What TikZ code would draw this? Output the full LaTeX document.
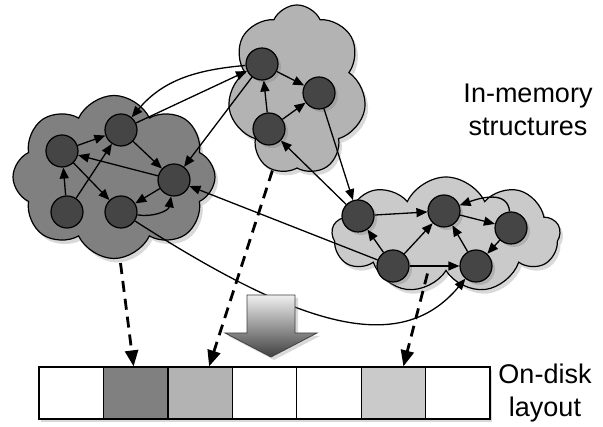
\documentclass[tikz,border=0pt]{standalone}
\usepackage{fontspec}
\setmainfont{Liberation Sans}
\usetikzlibrary{arrows.meta,calc,shapes.symbols,shadows}
\definecolor{heapdark}{HTML}{808080}
\definecolor{heapmid}{HTML}{B3B3B3}
\definecolor{heaplight}{HTML}{CACACA}
\definecolor{objfill}{HTML}{454545}

\begin{document}
\begin{tikzpicture}[
  x=1pt,y=1pt,font=\fontsize{27}{33}\selectfont,
  heap/.style={cloud,draw,line width=1.2pt,cloud puffs=8,cloud puff arc=130,
    inner sep=0pt,drop shadow={shadow xshift=3pt,shadow yshift=-4pt,opacity=.3}},
  obj/.style={circle,draw,line width=1.2pt,fill=objfill,minimum size=32pt,inner sep=0pt,
    drop shadow={shadow xshift=3pt,shadow yshift=-3pt,opacity=.35}},
  ref/.style={line width=1.3pt,-{Triangle[length=11pt,width=9pt]}},
  page/.style={draw,line width=1.2pt,fill=white,minimum width=64.4pt,
    minimum height=52pt,inner sep=0pt,
    drop shadow={shadow xshift=2pt,shadow yshift=-3pt,opacity=.3}},
  flush/.style={line width=2.8pt,dash pattern=on 11pt off 7pt,
    -{Triangle[length=16pt,width=13pt]}}
]
\path[use as bounding box] (0,0) rectangle (603,427);

% heaps
\node[heap,fill=heapdark,minimum width=202pt,minimum height=163pt] (lheap) at (114,250) {};
\node[heap,fill=heapmid,cloud puffs=7,minimum width=139pt,minimum height=170pt] (theap) at (297,337) {};
\node[heap,fill=heaplight,cloud puffs=9,minimum width=228pt,minimum height=116pt] (rheap) at (446,192) {};

% objects
\node[obj] (l1) at (121,297) {};
\node[obj] (l2) at (62,276) {};
\node[obj] (l3) at (174,247) {};
\node[obj] (l4) at (67,215) {};
\node[obj] (l5) at (121,215) {};
\node[obj] (t1) at (262,363) {};
\node[obj] (t2) at (319,334) {};
\node[obj] (t3) at (269,298) {};
\node[obj] (r1) at (358,211) {};
\node[obj] (r2) at (444,216) {};
\node[obj] (r3) at (511,199) {};
\node[obj] (r4) at (393,161) {};
\node[obj] (r5) at (476,161) {};

\draw[ref] (l2) -- (l1);
\draw[ref] (l4) -- (l2);
\draw[ref] (l4) -- (l1);
\draw[ref] (l1) -- (l3);
\draw[ref] (l3) -- (l2);
\draw[ref] (l2) -- (l5);
\draw[ref] (l3) -- (l5);
\draw[ref] (l5) to[out=-10,in=-100] (l3);
\draw[ref] (t3) -- (t1);
\draw[ref] (t1) -- (t2);
\draw[ref] (t3) -- (t2);
\draw[ref] (r1) -- (r2);
\draw[ref] (r4) -- (r1);
\draw[ref] (r4) -- (r2);
\draw[ref] (r4) -- (r5);
\draw[ref] (r5) -- (r2);
\draw[ref] (r2) -- (r3);
\draw[ref] (r3) to[out=95,in=20,looseness=1.1] (r2);
\draw[ref] (r3) -- (r5);
\draw[ref] (t1) to[out=185,in=50] (l1);
\draw[ref] (l1) -- (t1);
\draw[ref] (t1) -- (l3);
\draw[ref] (t2) -- (r1);
\draw[ref] (r1) -- (t3);
\draw[ref] (r4) -- (l3);
\draw[ref] (l5) .. controls (300,100) and (400,70) .. (r5);

% disk
\node[page] (p1) at (71.2,34) {};
\node[page,fill=heapdark] (p2) at (135.6,34) {};
\node[page,fill=heapmid] (p3) at (200.1,34) {};
\node[page] (p4) at (264.5,34) {};
\node[page] (p5) at (328.9,34) {};
\node[page,fill=heaplight] (p6) at (393.4,34) {};
\node[page] (p7) at (457.8,34) {};

\draw[flush,shorten <=4pt] ([xshift=6pt]lheap.south) -- ([xshift=-2pt]p2.north);
\draw[flush,shorten <=2pt] ([xshift=-24pt]theap.south) -- ([xshift=9pt]p3.north);
\draw[flush,shorten <=2pt] ([xshift=-18pt]rheap.south) -- ([xshift=10pt]p6.north);

\draw[draw=black!75,line width=.8pt,top color=black!6,bottom color=black!75,
  drop shadow={shadow xshift=3pt,shadow yshift=-3pt,opacity=.3}]
  (247,132) -- (295,132) -- (295,94) -- (317,94) -- (271,70) -- (225,94) -- (247,94) -- cycle;

\node[align=center] (mem) at (528,317) {In-memory\\structures};
\node[align=center] (disk) at (545,34) {On-disk\\layout};
\end{tikzpicture}
\end{document}
